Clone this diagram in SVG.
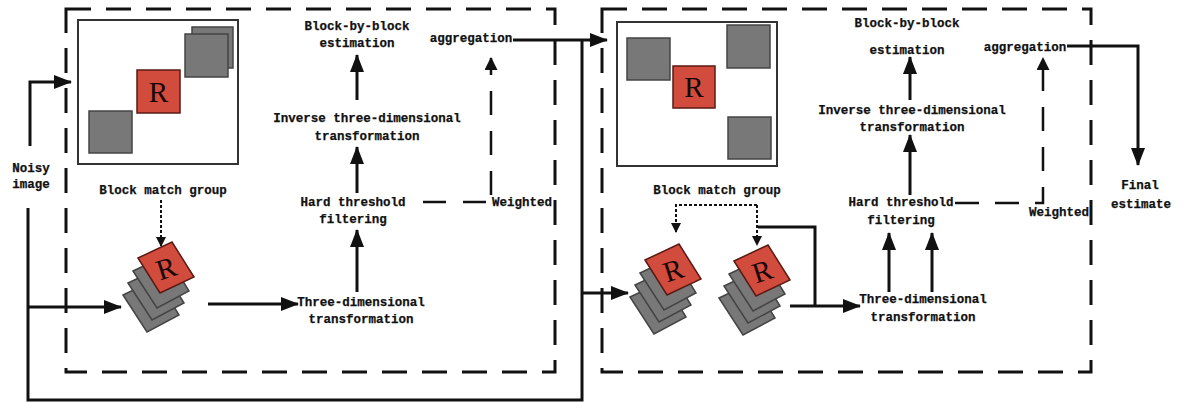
<svg xmlns="http://www.w3.org/2000/svg" width="1187" height="402" viewBox="0 0 1187 402">
<style>
.t{font-family:"Liberation Mono","DejaVu Sans Mono",monospace;font-weight:bold;font-size:12.5px;fill:#111;text-anchor:middle;stroke:#111;stroke-width:0.25}
.box{fill:none;stroke:#111;stroke-width:3;stroke-dasharray:25 15}
.img{fill:#fff;stroke:#333;stroke-width:2}
.g{fill:#787878;stroke:#444;stroke-width:1.5}
.r{fill:#d24c3e;stroke:#5a1a14;stroke-width:1.5}
.rt{font-family:"Liberation Serif","DejaVu Serif",serif;font-size:29px;fill:#1a0505;text-anchor:middle}
.ln{fill:none;stroke:#111;stroke-width:3}
.dl{fill:none;stroke:#111;stroke-width:2.5;stroke-dasharray:24 16}
.dt{fill:none;stroke:#111;stroke-width:2;stroke-dasharray:3 2}
</style>
<defs>
<marker id="a" markerUnits="userSpaceOnUse" markerWidth="18" markerHeight="14" refX="17" refY="7" orient="auto"><path d="M0,0 L18,7 L0,14 z" fill="#111"/></marker>
<marker id="s" markerUnits="userSpaceOnUse" markerWidth="10" markerHeight="10" refX="9" refY="5" orient="auto"><path d="M0,0 L10,5 L0,10 z" fill="#111"/></marker>
<marker id="m" markerUnits="userSpaceOnUse" markerWidth="13" markerHeight="13" refX="12" refY="6.5" orient="auto"><path d="M0,0 L13,6.5 L0,13 z" fill="#111"/></marker>
<g id="stk">
<polygon class="g" points="-15,53 19,37 41,73 9,90"/>
<polygon class="g" points="-10,41 24,25 46,61 14,78"/>
<polygon class="g" points="-5,29 29,13 51,49 19,66"/>
<polygon class="r" points="0,16 34,0 56,35 22,51"/>
<text class="rt" x="28" y="36" transform="rotate(-18 28 26)">R</text>
</g>
</defs>

<g id="stage1"><rect class="box" x="66" y="9" width="489" height="363"/></g>
<g id="stage2"><rect class="box" x="602" y="9" width="489" height="363"/></g>

<g id="image1">
<rect class="img" x="78" y="20" width="160" height="144"/>
<rect class="g" x="192" y="27" width="41" height="41"/>
<rect class="g" x="185" y="34" width="43" height="43"/>
<rect class="r" x="137" y="70" width="43" height="43"/>
<text class="rt" x="158.5" y="102">R</text>
<rect class="g" x="89" y="111" width="43" height="42"/>
</g>
<g id="image2">
<rect class="img" x="617" y="22" width="160" height="144"/>
<rect class="g" x="627" y="38" width="43" height="42"/>
<rect class="r" x="673" y="66" width="42" height="42"/>
<text class="rt" x="694" y="97">R</text>
<rect class="g" x="727" y="25" width="43" height="43"/>
<rect class="g" x="728" y="117" width="43" height="42"/>
</g>

<g id="stack1"><use href="#stk" transform="translate(138,242)"/></g>
<g id="stack2"><use href="#stk" transform="translate(645,244)"/></g>
<g id="stack3"><use href="#stk" transform="translate(734,245)"/></g>

<g id="connectors">
<path class="ln" d="M30,146 V82 H71" marker-end="url(#a)"/>
<path class="ln" d="M28,208 V400 H582 V40"/>
<path class="ln" d="M28,307 H121" marker-end="url(#a)"/>
<path class="ln" d="M513,40 H607" marker-end="url(#a)"/>
<path class="ln" d="M582,293 H628" marker-end="url(#a)"/>
<path class="ln" d="M208,304 H298" marker-end="url(#a)"/>
<path class="ln" d="M357,292 V230" marker-end="url(#a)"/>
<path class="ln" d="M357,193 V147" marker-end="url(#a)"/>
<path class="ln" d="M357,100 V55" marker-end="url(#a)"/>
<path class="dl" d="M423,202 H490" style="stroke-dasharray:23 17"/>
<path class="dl" d="M491,195 V58" marker-end="url(#m)"/>
<path class="dt" d="M161,200 V246" marker-end="url(#s)"/>
<path class="dt" d="M757,205 H676 V232" marker-end="url(#s)"/>
<path class="dt" d="M757,205 V245" marker-end="url(#s)"/>
<path class="ln" d="M758,227 H815 V306"/>
<path class="ln" d="M790,306 H860" marker-end="url(#a)"/>
<path class="ln" d="M889,292 V233" marker-end="url(#a)"/>
<path class="ln" d="M932,292 V233" marker-end="url(#a)"/>
<path class="ln" d="M910,195 V135" marker-end="url(#a)"/>
<path class="ln" d="M910,100 V57" marker-end="url(#a)"/>
<path class="dl" d="M955,203 H1043 V58" marker-end="url(#m)"/>
<path class="ln" d="M1067,46 H1138 V165" marker-end="url(#a)"/>
</g>

<g id="labels1">
<text class="t" x="31" y="172">Noisy</text>
<text class="t" x="31" y="188">image</text>
<text class="t" x="163" y="194">Block match group</text>
<text class="t" x="357" y="30">Block-by-block</text>
<text class="t" x="357" y="47">estimation</text>
<text class="t" x="471" y="42">aggregation</text>
<text class="t" x="367" y="122">Inverse three-dimensional</text>
<text class="t" x="367" y="140">transformation</text>
<text class="t" x="353" y="206">Hard threshold</text>
<text class="t" x="353" y="223">filtering</text>
<text class="t" x="522" y="206">Weighted</text>
<text class="t" x="361" y="306">Three-dimensional</text>
<text class="t" x="361" y="323">transformation</text>
</g>
<g id="labels2">
<text class="t" x="717" y="194">Block match group</text>
<text class="t" x="907" y="27">Block-by-block</text>
<text class="t" x="907" y="54">estimation</text>
<text class="t" x="1025" y="51">aggregation</text>
<text class="t" x="912" y="114">Inverse three-dimensional</text>
<text class="t" x="912" y="131">transformation</text>
<text class="t" x="901" y="206">Hard threshold</text>
<text class="t" x="901" y="224">filtering</text>
<text class="t" x="1059" y="216">Weighted</text>
<text class="t" x="923" y="303">Three-dimensional</text>
<text class="t" x="923" y="321">transformation</text>
<text class="t" x="1140" y="189">Final</text>
<text class="t" x="1141" y="208">estimate</text>
</g>
</svg>
